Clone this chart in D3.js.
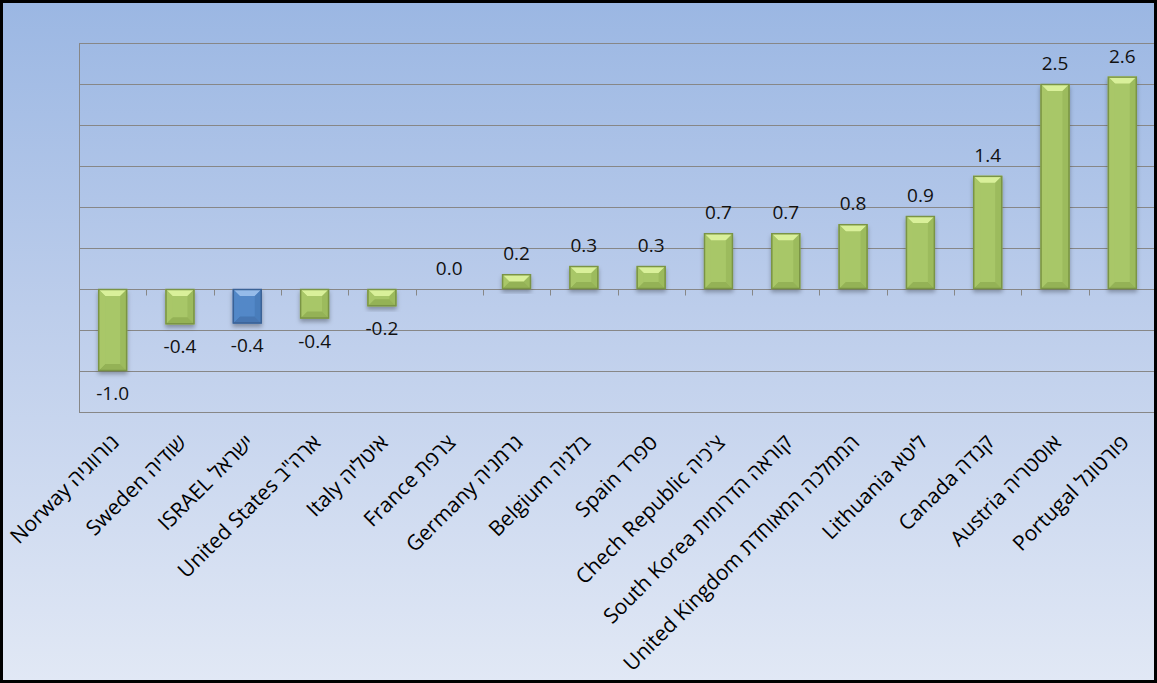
<!DOCTYPE html>
<html>
<head>
<meta charset="utf-8">
<script src="https://cdn.jsdelivr.net/npm/d3@7"></script>
<style>
    body { margin: 0; background: #000; }
    svg { display: block; }
    .cat-label { font-family: "Open Sans", "DejaVu Sans", sans-serif; font-size: 21px; fill: #000; }
    .val-label { font-family: "Open Sans", "DejaVu Sans", sans-serif; font-size: 19px; fill: #111; }
</style>
</head>
<body>
<div id="chart"></div>
<script>
// countries, left to right
let categories = ["Norway נורווגיה", "Sweden שודיה", "ISRAEL ישראל", "United States ארה\"ב",
    "Italy איטליה", "France צרפת", "Germany גרמניה", "Belgium בלגיה", "Spain ספרד",
    "Chech Republic צ'כיה", "South Korea קוראה הדרומית", "United Kingdom הממלכה המאוחדת",
    "Lithuania ליטא", "Canada קנדה", "Austria אוסטריה", "Portugal  פורטוגל"];

// change values
let values = [-1.0, -0.43, -0.42, -0.36, -0.21, 0.0, 0.18, 0.28, 0.28, 0.68, 0.68, 0.79, 0.89, 1.38, 2.5, 2.59];

// the highlighted bar
let highlight = ["ISRAEL ישראל"];

let yTicks = [-1.5, -1.0, -0.5, 0, 0.5, 1.0, 1.5, 2.0, 2.5, 3.0];

let W = 1157, H = 683;
let margin = {top: 43, left: 79, right: 1156, bottom: 412};

let svg = d3.select("#chart").append("svg")
    .attr("width", W)
    .attr("height", H);

let defs = svg.append("defs");

let bg = defs.append("linearGradient")
    .attr("id", "bg").attr("x1", 0).attr("y1", 0).attr("x2", 0).attr("y2", 1);
bg.append("stop").attr("offset", "0%").attr("stop-color", "#9bb7e3");
bg.append("stop").attr("offset", "45%").attr("stop-color", "#bccdeb");
bg.append("stop").attr("offset", "100%").attr("stop-color", "#e1e8f5");

defs.append("filter").attr("id", "shadow")
    .attr("x", "-30%").attr("y", "-30%").attr("width", "160%").attr("height", "160%")
    .append("feDropShadow")
    .attr("dx", 0).attr("dy", 3).attr("stdDeviation", 2)
    .attr("flood-color", "#000").attr("flood-opacity", 0.3);

defs.append("clipPath").attr("id", "frame")
    .append("rect").attr("x", 3).attr("y", 3).attr("width", 1151).attr("height", 677);

// black frame + background
svg.append("rect").attr("width", W).attr("height", H).attr("fill", "#000");
svg.append("rect").attr("x", 3).attr("y", 3).attr("width", 1151).attr("height", 677).attr("fill", "url(#bg)");

let g = svg.append("g").attr("clip-path", "url(#frame)");

// scales
let x = d3.scaleBand()
    .domain(categories)
    .range([margin.left, margin.right])
    .paddingInner(0.57)
    .paddingOuter(0.285);

let xCell = d3.scaleBand()
    .domain(categories)
    .range([margin.left, margin.right])
    .padding(0);

let y = d3.scaleLinear()
    .domain([-1.5, 3.0])
    .range([margin.bottom, margin.top]);

// gridlines
g.selectAll(".grid")
    .data(yTicks)
    .enter().append("line")
    .attr("class", "grid")
    .attr("x1", margin.left).attr("x2", margin.right)
    .attr("y1", d => Math.round(y(d)) + 0.5).attr("y2", d => Math.round(y(d)) + 0.5)
    .attr("stroke", "#878787").attr("stroke-width", 1);

// left axis line
g.append("line")
    .attr("x1", margin.left + 0.5).attr("x2", margin.left + 0.5)
    .attr("y1", y(3.0)).attr("y2", y(-1.5))
    .attr("stroke", "#878787");

// category ticks on the zero line
let y0 = Math.round(y(0)) + 0.5;
g.selectAll(".tick")
    .data(categories.slice(1))
    .enter().append("line")
    .attr("class", "tick")
    .attr("x1", d => Math.round(xCell(d)) + 0.5).attr("x2", d => Math.round(xCell(d)) + 0.5)
    .attr("y1", y0).attr("y2", y0 + 6)
    .attr("stroke", "#878787");

// bars with a bevel
let green = {main: "#a8c768", light: "#d9f09a", dark: "#94b256", edge: "#7a9444"};
let blue = {main: "#5288c8", light: "#95bbe9", dark: "#4676b2", edge: "#3b6296"};

let bars = g.selectAll(".bar")
    .data(categories.map((c, i) => ({cat: c, value: values[i]})).filter(d => d.value !== 0))
    .enter().append("g")
    .attr("class", "bar")
    .attr("filter", "url(#shadow)");

bars.each(function(d) {
    let col = highlight.includes(d.cat) ? blue : green;
    let bx = x(d.cat), bw = x.bandwidth();
    let by = Math.min(y(d.value), y(0)), bh = Math.abs(y(d.value) - y(0));
    let b = Math.min(7, bh / 2, bw / 2);
    let sel = d3.select(this);

    sel.append("rect")
        .attr("x", bx).attr("y", by).attr("width", bw).attr("height", bh)
        .attr("fill", col.main);
    // top bevel
    sel.append("polygon")
        .attr("points", [[bx, by], [bx + bw, by], [bx + bw - b, by + b], [bx + b, by + b]].join(" "))
        .attr("fill", col.light);
    // bottom bevel
    sel.append("polygon")
        .attr("points", [[bx, by + bh], [bx + bw, by + bh], [bx + bw - b, by + bh - b], [bx + b, by + bh - b]].join(" "))
        .attr("fill", col.dark);
    // sides
    sel.append("polygon")
        .attr("points", [[bx, by], [bx + b, by + b], [bx + b, by + bh - b], [bx, by + bh]].join(" "))
        .attr("fill", col.main).attr("opacity", 0.9);
    sel.append("polygon")
        .attr("points", [[bx + bw, by], [bx + bw - b, by + b], [bx + bw - b, by + bh - b], [bx + bw, by + bh]].join(" "))
        .attr("fill", col.dark).attr("opacity", 0.6);
    sel.append("rect")
        .attr("x", bx + 0.5).attr("y", by + 0.5).attr("width", bw - 1).attr("height", Math.max(0, bh - 1))
        .attr("fill", "none").attr("stroke", col.edge).attr("stroke-width", 1.5);
});

// value labels
g.selectAll(".val-label")
    .data(categories.map((c, i) => ({cat: c, value: values[i]})))
    .enter().append("text")
    .attr("class", "val-label")
    .attr("text-anchor", "middle")
    .attr("x", d => x(d.cat) + x.bandwidth() / 2)
    .attr("y", d => d.value < 0 ? y(d.value) + 29 : y(d.value) - 14)
    .text(d => d3.format(".1f")(d.value).replace("−", "-"));

// category labels, rotated
g.selectAll(".cat-label")
    .data(categories)
    .enter().append("text")
    .attr("class", "cat-label")
    .attr("text-anchor", "end")
    .attr("dy", "0.72em")
    .attr("transform", d => "translate(" + (x(d) + x.bandwidth() / 2 - 3) + ",433) rotate(-45)")
    .text(d => d);
</script>
</body>
</html>
